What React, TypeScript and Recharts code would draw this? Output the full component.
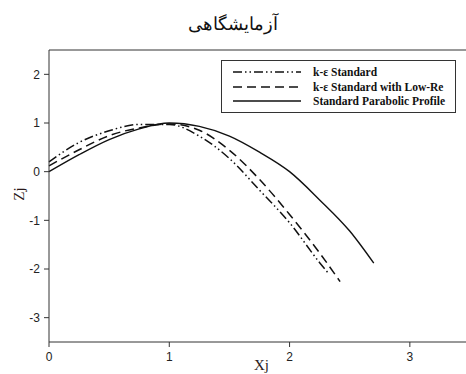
import React from 'react';
import { LineChart, Line, XAxis, YAxis, ReferenceLine } from 'recharts';

const xTicks = [0, 1, 2, 3];
const yTicks = [-3, -2, -1, 0, 1, 2];

const kEpsStandard = [
  { x: 0, z: 0.2 }, { x: 0.25, z: 0.6 }, { x: 0.5, z: 0.84 }, { x: 0.75, z: 0.97 },
  { x: 1.0, z: 0.97 }, { x: 1.25, z: 0.73 }, { x: 1.5, z: 0.27 }, { x: 1.75, z: -0.38 },
  { x: 2.0, z: -1.05 }, { x: 2.25, z: -1.87 }, { x: 2.32, z: -2.08 },
];

const kEpsLowRe = [
  { x: 0, z: 0.12 }, { x: 0.25, z: 0.45 }, { x: 0.5, z: 0.74 }, { x: 0.75, z: 0.9 },
  { x: 1.0, z: 0.98 }, { x: 1.25, z: 0.85 }, { x: 1.5, z: 0.44 }, { x: 1.75, z: -0.16 },
  { x: 2.0, z: -0.88 }, { x: 2.25, z: -1.67 }, { x: 2.42, z: -2.26 },
];

const parabolic = [
  { x: 0, z: 0 }, { x: 0.25, z: 0.35 }, { x: 0.5, z: 0.66 }, { x: 0.75, z: 0.88 },
  { x: 1.0, z: 1.0 }, { x: 1.25, z: 0.93 }, { x: 1.5, z: 0.73 }, { x: 1.75, z: 0.4 },
  { x: 2.0, z: 0.0 }, { x: 2.25, z: -0.58 }, { x: 2.5, z: -1.22 }, { x: 2.7, z: -1.88 },
];

const series = [
  { name: 'k-ε Standard', data: kEpsStandard, dash: '9 3 1.5 3 1.5 3', width: 1.5 },
  { name: 'k-ε Standard with Low-Re', data: kEpsLowRe, dash: '9 5', width: 1.5 },
  { name: 'Standard Parabolic Profile', data: parabolic, dash: undefined, width: 1.4 },
];

const tickStyle = { fontSize: 12, fill: '#222', fontFamily: '"Liberation Sans", Arial, sans-serif' };
const axisTitle = { position: 'absolute' as const, fontSize: 15, color: '#2a1a1a', fontFamily: '"Liberation Serif", serif', lineHeight: '16px' };

export default function App() {
  return (
    <div style={{ position: 'absolute', left: 0, top: 0, width: 466, height: 374, overflow: 'hidden', background: '#fff' }}>
      <div style={{ position: 'absolute', left: 0, width: 466, top: 13, textAlign: 'center', fontSize: 18, fontWeight: 300, fontFamily: '"DejaVu Sans", "Noto Sans", sans-serif', color: '#111' }}>
        آزمایشگاهی
      </div>
      <LineChart width={480} height={374} margin={{ top: 50, right: 10, bottom: 2, left: 0 }}>
        <XAxis
          type="number"
          dataKey="x"
          domain={[0, 3.5]}
          ticks={xTicks}
          allowDuplicatedCategory={false}
          height={30}
          tickSize={5}
          tickMargin={5}
          stroke="#333"
          tick={tickStyle}
        />
        <YAxis
          type="number"
          dataKey="z"
          domain={[-3.5, 2.5]}
          ticks={yTicks}
          width={49}
          tickSize={5}
          tickMargin={4}
          stroke="#333"
          tick={tickStyle}
        />
        <ReferenceLine y={2.5} stroke="#333" ifOverflow="extendDomain" />
        {series.map(s => (
          <Line
            key={s.name}
            data={s.data}
            dataKey="z"
            type="monotone"
            stroke="#111"
            strokeWidth={s.width}
            strokeDasharray={s.dash}
            dot={false}
            isAnimationActive={false}
          />
        ))}
      </LineChart>
      <div style={{ ...axisTitle, left: 254, top: 357 }}>Xj</div>
      <div style={{ ...axisTitle, left: 12, top: 186, transform: 'rotate(-90deg)' }}>Zj</div>
      <div style={{ position: 'absolute', left: 221, top: 60, width: 233, height: 51, border: '1px solid #333', background: '#fff', fontFamily: '"Liberation Serif", "Times New Roman", serif', fontWeight: 'bold', fontSize: 11.5, color: '#111' }}>
        {series.map((s, i) => (
          <div key={s.name} style={{ position: 'absolute', left: 10, top: 4 + i * 14.5, height: 14, display: 'flex', alignItems: 'center' }}>
            <svg width={70} height={10}>
              <line x1={1} y1={5} x2={69} y2={5} stroke="#111" strokeWidth={s.width} strokeDasharray={s.dash} />
            </svg>
            <span style={{ marginLeft: 11, whiteSpace: 'nowrap' }}>{s.name}</span>
          </div>
        ))}
      </div>
    </div>
  );
}
